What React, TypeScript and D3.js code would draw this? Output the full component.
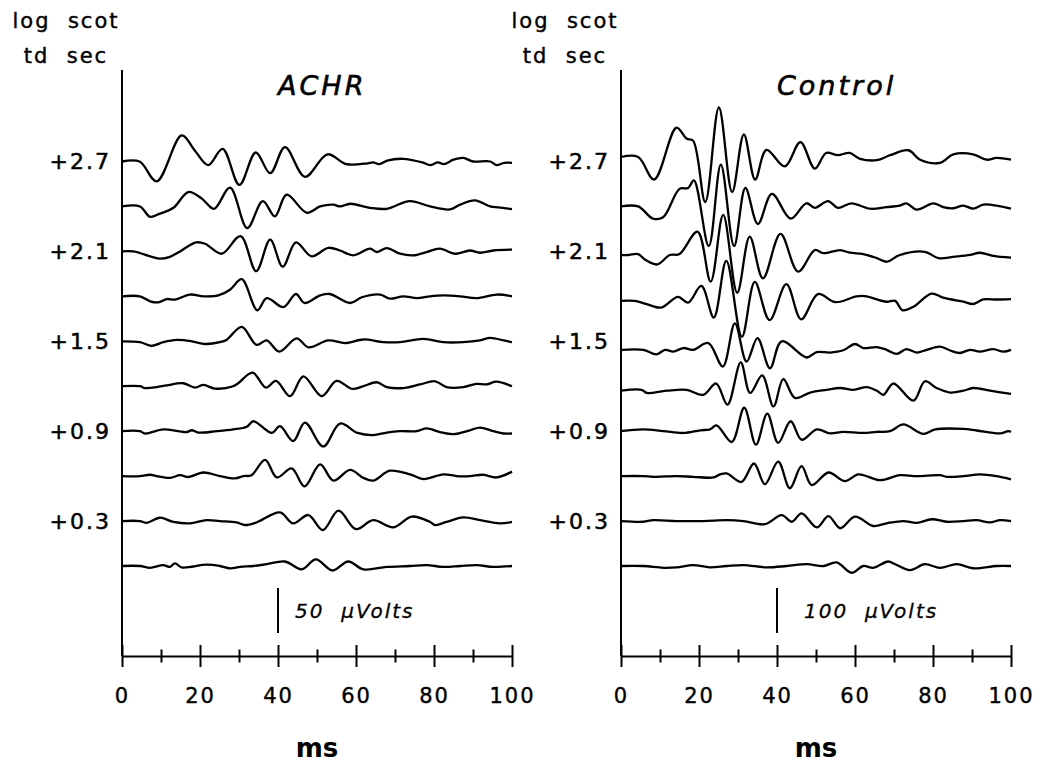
import React, { useRef, useEffect } from 'react';
import * as d3 from 'd3';

// log scot td sec of each trace, top to bottom
const logTd = [2.7, 2.4, 2.1, 1.8, 1.5, 1.2, 0.9, 0.6, 0.3, 0.0];
const labelTd = [2.7, 2.1, 1.5, 0.9, 0.3];
const msTicks = [0, 20, 40, 60, 80, 100];
const msMinor = [10, 30, 50, 70, 90];

// ACHR traces: [ms, μV] read at peaks / troughs
const achr27 = [[0,0],[4.5,0],[8.9,-22],[15.3,29],[18.7,12],[22.1,-4],[25.8,14],[30.1,-26],[34.3,10],[38,-13],[41.8,16],[46.9,-17],[52.7,8],[57.5,-3],[63,-2],[64.4,-1],[66,-3],[68,1],[72,3],[77,-1],[79,-4],[81,-1],[82.5,-3],[85,2],[87.5,4],[90,0],[94.4,0],[96,-4],[98,-1.5],[100,-1.5]];
const achr24 = [[0,0],[4.6,0],[7.2,-11.5],[9.7,-8],[13.2,-1.5],[17,16],[20.4,9],[23.6,-2.6],[27.7,21],[32.1,-24],[36.1,6],[39.2,-11],[42.2,13],[47.4,-7],[50.8,0],[54.2,2],[55.9,0],[58.5,3],[63.6,-1.5],[67.9,-2.6],[73.8,6],[79,0],[84.1,-3.3],[86.7,2],[90.5,6.7],[94.4,0],[96.5,-1],[100,-3]];
const achr21 = [[0,0],[2.9,0],[9.7,-8],[12.3,-6],[14.9,0],[19,10],[21.3,8.5],[25.6,-2.6],[30.4,17],[34.4,-22],[38,13],[41.2,-17],[44.6,10],[48.6,-5.5],[52.9,4],[55.9,1],[59.3,-4.4],[63.6,3],[65.3,-0.7],[67.9,3.7],[71.3,-2.6],[74.7,-4.4],[78.1,-0.7],[81.5,3],[85.4,-2.6],[89.2,1],[91.8,-1.5],[95.2,1],[100,2]];
const achr18 = [[0,0],[4.6,0],[7.2,-5.5],[9.3,-6.7],[11.5,-3],[13.6,-3.7],[17.4,2],[20.9,0],[24.7,1],[27.7,7.4],[30.7,19],[34.7,-15.5],[37.1,-2],[41.4,-12],[44.6,2.6],[46.8,-7.4],[50.8,1],[53.3,2.6],[58.5,-7.4],[61.5,-1],[66.2,2],[68.7,-2.6],[72.1,0],[75.6,-2],[79,0],[82.4,1],[86.7,0],[90.9,-2],[96.1,2],[100,0]];
const achr15 = [[0,0],[4.6,-1],[7.6,-5],[10.6,-1],[14,1.5],[17.9,0],[21.3,-3],[25.1,-1],[26.8,1.5],[30.7,16],[34.5,-4],[37.1,1],[40.3,-11.5],[44.8,3.3],[47.8,-6.7],[52.9,1],[57.2,-2],[61.9,2],[67,-1],[71.3,-1],[77.3,2.6],[82.4,-1],[87.5,-1],[91.8,1],[94.4,3.7],[97.8,1],[100,-1]];
const achr12 = [[0,0],[4.6,0],[5.9,-2],[8.9,-1],[11.5,1],[15.7,3.3],[18.7,-1.5],[20.9,1.5],[23.8,-2.6],[28.5,0],[29.8,3.3],[33.5,15],[36.9,-1.5],[39.5,6],[43.1,-11],[46.5,11],[51.2,-11],[55,6],[59,-3],[61.9,0],[65.3,4.4],[67.9,-1],[72.1,-2],[76.4,2],[80.3,5.5],[83.2,-1],[87.5,-1],[90.9,2.6],[93.5,2],[96,5],[100,0]];
const achr09 = [[0,0],[4.6,0],[5.9,-2.6],[10.6,2],[14.4,0],[16.6,-1],[17.9,1],[19.6,-1.5],[24.3,0],[28.5,2],[32,5],[33.7,11],[38.4,-2],[40.5,5.5],[43.9,-11],[46.9,9.6],[51.6,-17],[55.9,8.5],[60.4,-2],[64.4,-4.4],[67.9,-1.5],[71.3,0],[75.6,0],[78.1,3],[81.5,-1],[85,-3.3],[89.2,1],[91.8,4],[95.2,0],[97.8,-2.6],[100,-2.6]];
const achr06 = [[0,0],[4.6,0],[7.2,1.5],[8.9,0],[12.3,-2],[14.9,1],[17,-1],[20.9,4],[25.1,0],[29,-2.6],[31.1,0],[33.2,1],[36.7,18],[39.7,-1.5],[43.5,8.5],[46.8,-11.5],[50.8,13],[54.2,-5],[58.5,7],[61.9,-2],[64.4,-5],[68.7,6],[73.8,2],[77.3,-3.3],[82.4,2],[85.8,0],[89.2,0],[92.6,1.5],[96,-1.5],[100,5]];
const achr03 = [[0,0],[4.6,0],[6.3,-2],[9.7,3.7],[13.2,-1],[17.4,-2.6],[21.7,1],[25.1,0],[29.4,-1.5],[31.5,-4.4],[34.5,-1.5],[40.5,9.6],[43.9,-2.6],[47.8,6.7],[51.5,-10],[55.5,11.5],[60,-9],[64.4,1],[69.6,-7],[74.3,5],[79,-1],[80.3,-4.4],[83.2,-1],[87.5,4],[91.8,1],[96.9,-2.6],[100,-1]];
const achr00 = [[0,0],[4.6,0],[7.2,-2],[10.6,1],[12.3,-1],[13.6,3],[15.3,-1.5],[21.7,1.5],[25.1,0],[27.7,-2.6],[30.3,-1],[33.7,0],[37.1,2],[41.8,5],[46.1,-3.7],[49.7,7.4],[54,-5],[58,5],[61.9,-3.7],[67.9,-1],[73.8,0],[78.1,1],[82.4,-1],[86.7,0],[90.9,1],[95.2,-1],[100,0]];

// Control traces: [ms, μV]
const ctrl27 = [[0,0],[4.4,0],[8.5,-50],[14.2,65],[16.8,41],[18.5,36],[21.6,-100],[25.1,110],[28.5,-78],[31.5,50],[34.4,-50],[37.3,16],[42,-21],[46,33],[49.7,-26],[52.6,9],[55.6,4],[58.6,9],[61.3,-4],[65.6,-7],[69,4],[73.7,15],[76.7,-6],[81.8,-13],[85.2,6],[90.3,6],[93.8,-6],[96.3,-2],[100,-6]];
const ctrl24 = [[0,0],[4.4,0],[8.2,-27],[10.8,-24],[15,39],[17.2,41],[18.7,58],[22.5,-88],[25.6,93],[29,-88],[31.9,41],[35.1,-39],[38.7,28],[43.5,-27],[47.5,7],[49.7,-3],[53.1,12],[55.6,-3],[59.1,7],[63.8,-5],[68.1,-1.5],[71.5,2],[73.2,7],[75.8,-7],[80.1,7],[82.6,-1.5],[85.2,-4],[87.8,2],[90.3,-5],[92.9,4],[96.3,2],[100,-5]];
const ctrl21 = [[0,0],[1.8,0],[4.4,2],[6.1,-10],[9.3,-21],[12.5,0],[15,2],[19.6,52],[23,-59],[26.2,89],[29.8,-84],[33,41],[36.4,-52],[40.9,47],[45.4,-37],[49.7,11],[51.9,4],[56.2,11],[58.7,5],[62.1,2],[65.6,-7],[68.1,-15],[71.5,0],[77.9,7],[81.4,-7],[85.2,-4],[89.5,0],[92,5],[95.5,-2],[100,-6]];
const ctrl18 = [[0,0],[3.5,0],[6.1,-6],[10.3,-15],[14.6,9],[17.2,-4],[20.6,33],[23.8,-37],[27,89],[31,-80],[34.3,42],[38.1,-43],[42.4,37],[46.2,-41],[50.5,15],[55,-3],[60.4,10],[63,10],[65.6,3],[68.1,-2],[70.3,0],[72.2,-21],[75,-13],[79.6,16],[82.6,7],[87.8,-2],[90.3,-7],[92.9,3],[96.3,3],[100,4]];
const ctrl15 = [[0,0],[5.7,0],[9.1,-10],[11.3,0],[13.4,-4],[16,4],[18.5,0],[22.4,15],[26.1,-37],[29.2,59],[32.2,-26],[35,26],[38.2,-41],[41.2,19],[47.6,-17],[50.2,-5],[53.6,-6],[57,-1],[60,13],[62.1,4],[65.6,6],[68.1,0],[70.7,-9],[73.2,1.5],[75.8,-6],[78.4,0],[81.8,7],[84.4,-1.5],[86.9,-7],[89.5,0],[92,-4],[95.5,1.5],[98,-4],[100,0]];
const ctrl12 = [[0,0],[5.3,2],[6.6,-5],[11.7,0],[16.8,2],[21.1,-9],[24.4,16],[27.3,-31],[30.7,63],[33.1,-5],[36.2,34],[39.1,-35],[41.6,26],[44.6,-16],[48.5,-4],[52.7,2],[56.2,6],[59.6,2],[63,8],[65.6,0],[67.3,-9],[69.8,16],[75,-22],[77.9,21],[80.9,6],[84.4,-4],[87.8,0],[90.3,6],[94.6,0],[100,-7]];
const ctrl09 = [[0,0],[5.7,4],[10.9,0],[16,-4],[20.3,2],[22.8,4],[24.5,13],[28.4,-24],[31.6,52],[34.6,-30],[37.5,39],[40.3,-26],[43.5,22],[46.3,-19],[50.2,4],[53.6,-5],[57,-1.5],[62.1,-4],[65.6,-1.5],[69,0],[72.4,15],[77.5,-6],[80.6,4],[87.8,5],[91.2,1.5],[97.2,-5],[99.3,0],[100,-2]];
const ctrl06 = [[0,0],[5.7,0],[8.3,-1.5],[14.3,0],[18.5,-1.5],[23.7,-3],[25.4,4],[27.1,6],[30.9,-13],[34.1,28],[36.9,-18],[40.3,32],[43.3,-27],[46.3,22],[48.9,-20],[53.2,8],[57.4,-11],[60.9,4],[66.4,-9],[71.5,2],[75.8,0],[81.8,2],[83.5,-1.5],[87.8,0],[92,4],[96.3,0],[100,-7]];
const ctrl03 = [[0,0],[5.7,-1.5],[8.3,2],[14.3,0],[21.1,0],[27.1,2],[31.4,0],[36.9,-7],[41.2,13],[43.8,-1.5],[46.3,17],[50.2,-14],[53.2,11],[56.2,-16],[60,10],[64.7,-11],[68.1,-5],[72.4,0],[75.8,-4],[79.7,4],[83.5,-1.5],[87.8,0],[91.2,2],[94.6,-3],[97.2,2],[100,0]];
const ctrl00 = [[0,0],[5.7,0],[10.9,-4],[14.3,-3],[18.5,2],[22.8,-3],[27.1,0],[31.4,2],[37.4,-3],[42.5,0],[47.6,4],[51.9,0],[55.3,8],[59.1,-15],[62.1,0],[64.7,-4],[68.5,10],[70.3,4],[74.1,-9],[77.9,4],[81.8,-4],[86.1,4],[90.3,-5],[96.3,0],[100,0]];

// baseline (DC) shift of each trace, μV
const achrDc = [0, 0, 0, 0, 0, 0, 0, 0, 0, 0];
const ctrlDc = [10, 0, -8, -10, -19, -10, 0, 0, 0, 0];

const achrTraces = [achr27, achr24, achr21, achr18, achr15, achr12, achr09, achr06, achr03, achr00];
const ctrlTraces = [ctrl27, ctrl24, ctrl21, ctrl18, ctrl15, ctrl12, ctrl09, ctrl06, ctrl03, ctrl00];

const panels = [
     { title: 'ACHR', traces: achrTraces, dc: achrDc, barUv: 50, left: 122, barDx: 17 },
     { title: 'Control', traces: ctrlTraces, dc: ctrlDc, barUv: 100, left: 621, barDx: 27 },
];

const FONT = '"DejaVu Sans", Verdana, sans-serif';

// slightly heavier glyphs, closer to the old Mac print
const heavy = (sel, w = 0.5) => sel.attr('stroke', 'black').attr('stroke-width', w);

const plot = (svgRef) => {
     const svg = d3.select(svgRef.current);
     svg.selectAll('*').remove();

     const axisY = 656;
     const barBase = 633;

     const yScale = d3.scaleLinear()
          .domain([0, 2.7])
          .range([566, 161.5]);

     panels.forEach(p => {
          const xScale = d3.scaleLinear()
               .domain([0, 100])
               .range([p.left, p.left + 390]);

          // 45 px stands for the scale bar value
          const amp = d3.scaleLinear()
               .domain([0, p.barUv])
               .range([0, 45]);

          const g = svg.append('g');

          // header
          const hx = p.left - 56;
          heavy(g.append('text').attr('x', hx).attr('y', 28)
               .attr('text-anchor', 'middle').style('white-space', 'pre')
               .attr('font-size', 21).attr('letter-spacing', 2)
               .text('log  scot'), 0.4);
          heavy(g.append('text').attr('x', hx).attr('y', 63)
               .attr('text-anchor', 'middle').style('white-space', 'pre')
               .attr('font-size', 21).attr('letter-spacing', 2)
               .text('td  sec'), 0.4);

          // title
          heavy(g.append('text').attr('x', xScale(40)).attr('y', 95)
               .attr('font-size', 27).attr('font-style', 'italic')
               .attr('letter-spacing', 3)
               .text(p.title), 0.6);

          // vertical line
          g.append('line')
               .attr('x1', p.left).attr('x2', p.left)
               .attr('y1', 70).attr('y2', axisY)
               .attr('stroke', 'black').attr('stroke-width', 2);

          // x axis
          const xAxis = g.append('g')
               .attr('transform', `translate(0,${axisY})`)
               .call(d3.axisBottom(xScale).tickValues(msTicks).tickSize(11).tickPadding(21).tickSizeOuter(0));
          xAxis.select('.domain').attr('stroke-width', 2);
          xAxis.selectAll('.tick line').attr('y1', -11).attr('stroke-width', 2);
          heavy(xAxis.selectAll('.tick text')
               .attr('font-size', 21).attr('font-family', FONT)
               .attr('letter-spacing', 2).attr('fill', 'black'), 0.4);

          const xMinor = g.append('g')
               .attr('transform', `translate(0,${axisY})`)
               .call(d3.axisBottom(xScale).tickValues(msMinor).tickSize(6.5).tickFormat(() => ''));
          xMinor.select('.domain').remove();
          xMinor.selectAll('.tick line').attr('y1', -6.5).attr('stroke-width', 2);

          g.append('text')
               .attr('x', xScale(50)).attr('y', 757)
               .attr('text-anchor', 'middle')
               .attr('font-size', 26).attr('font-weight', 'bold')
               .text('ms');

          // trace labels
          heavy(g.selectAll('.lab').data(labelTd).enter().append('text')
               .attr('x', p.left - 11)
               .attr('y', d => yScale(d))
               .attr('dy', '0.36em')
               .attr('text-anchor', 'end')
               .attr('font-size', 22).attr('letter-spacing', 2)
               .text(d => `+${d.toFixed(1)}`), 0.5);

          // traces
          p.traces.forEach((tr, i) => {
               const base = yScale(logTd[i]);
               const dc = p.dc[i];
               g.append('path')
                    .datum(tr)
                    .attr('fill', 'none')
                    .attr('stroke', 'black')
                    .attr('stroke-width', 2.3)
                    .attr('stroke-linejoin', 'round')
                    .attr('d', d3.line()
                         .x(d => xScale(d[0]))
                         .y(d => base - amp(d[1] + dc))
                         .curve(d3.curveCatmullRom.alpha(0.5))
                    );
          });

          // scale bar
          g.append('line')
               .attr('x1', xScale(40)).attr('x2', xScale(40))
               .attr('y1', barBase).attr('y2', barBase - amp(p.barUv))
               .attr('stroke', 'black').attr('stroke-width', 2);
          heavy(g.append('text')
               .attr('x', xScale(40) + p.barDx).attr('y', 618)
               .style('white-space', 'pre')
               .attr('font-size', 20).attr('font-style', 'italic')
               .attr('letter-spacing', 2)
               .text(`${p.barUv}  μVolts`), 0.3);
     });
};

export default function App() {
     const svgRef = useRef(null);

     useEffect(() => {
          plot(svgRef);
     }, [svgRef]);

     return (
          <svg ref={svgRef} width={1042} height={764}
               style={{ position: 'absolute', left: 0, top: 0, background: 'white', fontFamily: FONT }} />
     );
}
